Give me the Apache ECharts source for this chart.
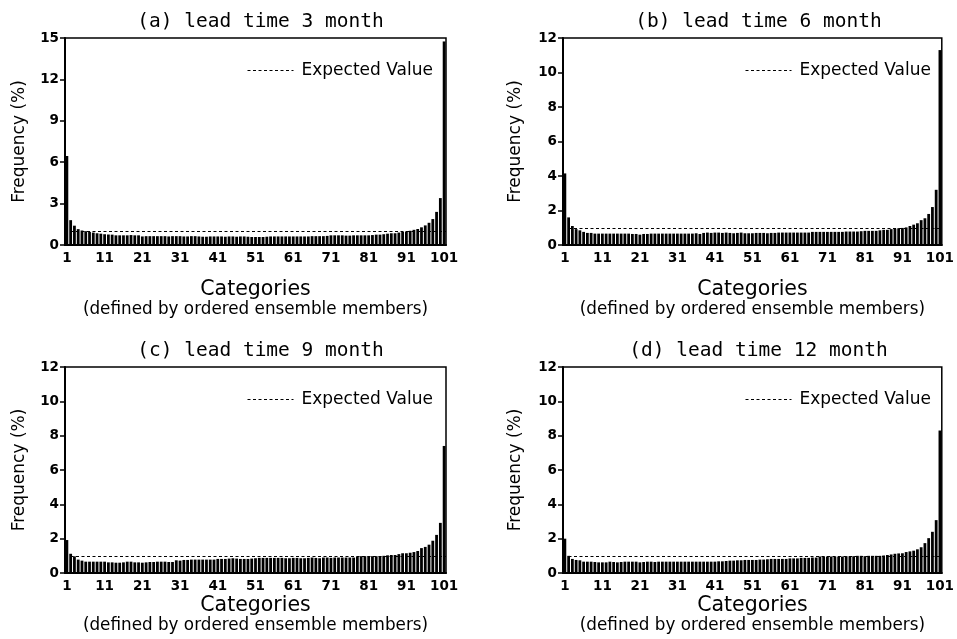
<!DOCTYPE html>
<html>
<head>
<meta charset="utf-8">
<script src="https://cdn.jsdelivr.net/npm/echarts@6/dist/echarts.min.js"></script>
<style>
html,body{margin:0;padding:0;background:#fff;}
#chart{width:957px;height:639px;}
</style>
</head>
<body>
<div id="chart"></div>
<script>
// Categories 1..101 (ordered ensemble member ranks)
const categories = Array.from({length: 101}, (_, i) => String(i + 1));

const titles = ['(a) lead time 3 month', '(b) lead time 6 month', '(c) lead time 9 month', '(d) lead time 12 month'];

const freqLead3 = [
  6.45, 1.8, 1.4, 1.15, 1.05, 1.0, 0.95, 0.9, 0.85, 0.82,
  0.78, 0.76, 0.75, 0.7, 0.7, 0.7, 0.7, 0.72, 0.7, 0.7,
  0.62, 0.64, 0.64, 0.64, 0.64, 0.64, 0.64, 0.62, 0.64, 0.64,
  0.64, 0.62, 0.62, 0.64, 0.64, 0.62, 0.6, 0.6, 0.62, 0.62,
  0.62, 0.62, 0.6, 0.62, 0.62, 0.6, 0.62, 0.62, 0.6, 0.58,
  0.58, 0.58, 0.58, 0.6, 0.62, 0.62, 0.62, 0.62, 0.62, 0.62,
  0.62, 0.62, 0.62, 0.62, 0.62, 0.64, 0.64, 0.64, 0.64, 0.66,
  0.7, 0.7, 0.7, 0.7, 0.68, 0.68, 0.7, 0.7, 0.7, 0.7,
  0.7, 0.72, 0.75, 0.75, 0.78, 0.82, 0.85, 0.85, 0.9, 0.95,
  0.98, 1.03, 1.1, 1.16, 1.28, 1.42, 1.61, 1.88, 2.4, 3.4, 14.75
];
const freqLead6 = [
  4.15, 1.6, 1.1, 0.92, 0.85, 0.76, 0.7, 0.7, 0.66, 0.66,
  0.66, 0.66, 0.66, 0.66, 0.66, 0.66, 0.66, 0.66, 0.64, 0.64,
  0.6, 0.64, 0.64, 0.66, 0.66, 0.66, 0.66, 0.66, 0.66, 0.66,
  0.66, 0.66, 0.66, 0.66, 0.66, 0.68, 0.64, 0.7, 0.72, 0.7,
  0.72, 0.72, 0.7, 0.72, 0.7, 0.68, 0.7, 0.72, 0.68, 0.68,
  0.68, 0.7, 0.7, 0.7, 0.68, 0.7, 0.7, 0.72, 0.72, 0.72,
  0.72, 0.72, 0.72, 0.72, 0.72, 0.72, 0.76, 0.76, 0.76, 0.76,
  0.76, 0.76, 0.76, 0.76, 0.76, 0.78, 0.78, 0.78, 0.78, 0.8,
  0.82, 0.82, 0.82, 0.82, 0.85, 0.88, 0.88, 0.92, 0.95, 0.97,
  0.99, 1.02, 1.1, 1.18, 1.26, 1.44, 1.55, 1.8, 2.2, 3.2, 11.3
];
const freqLead9 = [
  1.92, 1.12, 0.97, 0.78, 0.72, 0.66, 0.66, 0.66, 0.66, 0.66,
  0.66, 0.62, 0.62, 0.6, 0.6, 0.62, 0.66, 0.66, 0.62, 0.62,
  0.6, 0.62, 0.64, 0.64, 0.66, 0.66, 0.66, 0.64, 0.64, 0.74,
  0.72, 0.76, 0.76, 0.78, 0.78, 0.78, 0.78, 0.78, 0.78, 0.78,
  0.82, 0.82, 0.82, 0.84, 0.86, 0.84, 0.82, 0.82, 0.82, 0.84,
  0.86, 0.88, 0.88, 0.88, 0.88, 0.88, 0.88, 0.88, 0.86, 0.86,
  0.88, 0.88, 0.86, 0.86, 0.88, 0.9, 0.88, 0.86, 0.9, 0.9,
  0.88, 0.9, 0.9, 0.9, 0.9, 0.9, 0.9, 0.96, 0.98, 0.98,
  0.98, 0.98, 0.98, 0.98, 1.0, 1.03, 1.05, 1.05, 1.1, 1.15,
  1.15, 1.18, 1.22, 1.28, 1.45, 1.52, 1.65, 1.88, 2.22, 2.92, 7.4
];
const freqLead12 = [
  2.0, 1.0, 0.82, 0.76, 0.74, 0.66, 0.66, 0.66, 0.64, 0.62,
  0.62, 0.62, 0.66, 0.64, 0.62, 0.64, 0.66, 0.66, 0.66, 0.66,
  0.62, 0.64, 0.66, 0.66, 0.64, 0.66, 0.66, 0.66, 0.66, 0.66,
  0.66, 0.66, 0.66, 0.66, 0.66, 0.66, 0.66, 0.66, 0.66, 0.66,
  0.66, 0.68, 0.68, 0.7, 0.72, 0.72, 0.74, 0.74, 0.76, 0.76,
  0.76, 0.76, 0.78, 0.78, 0.8, 0.82, 0.82, 0.82, 0.82, 0.82,
  0.85, 0.85, 0.85, 0.88, 0.88, 0.88, 0.9, 0.9, 0.96, 0.96,
  0.96, 0.96, 0.96, 0.96, 0.96, 0.98, 0.98, 0.98, 1.0, 1.0,
  0.98, 1.0, 1.0, 1.0, 1.0, 1.02, 1.05, 1.08, 1.12, 1.14,
  1.15, 1.22, 1.26, 1.3, 1.38, 1.5, 1.74, 2.03, 2.4, 3.08, 8.3
];
const expectedValue = 1;
const yMax = [15, 12, 12, 12];
const yStep = [3, 2, 2, 2];

const seriesData = [freqLead3, freqLead6, freqLead9, freqLead12];

const FONT = 'DejaVu Sans';
const MONO = 'DejaVu Sans Mono';
const grids = [
  {left: 65, top: 38, width: 381, height: 207},
  {left: 563, top: 38, width: 381, height: 207},
  {left: 65, top: 367, width: 381, height: 206},
  {left: 563, top: 367, width: 381, height: 206}
];
const DASH = [3, 2.5];

const option = {
  backgroundColor: '#fff',
  animation: false,
  textStyle: {fontFamily: FONT, color: '#000'},
  title: titles.map((t, i) => ({
    text: t,
    left: grids[i].left + grids[i].width / 2,
    textAlign: 'center',
    top: i < 2 ? 7 : 336,
    textStyle: {fontFamily: MONO, fontSize: 19.5, fontWeight: 'normal', color: '#000'}
  })),
  legend: grids.map((g, i) => ({
    data: ['Expected Value'],
    left: g.left + 177,
    top: g.top + 19,
    itemWidth: 46,
    itemHeight: 10,
    itemGap: 8,
    selectedMode: false,
    itemStyle: {opacity: 0},
    lineStyle: {type: DASH, color: '#000', width: 1},
    textStyle: {fontFamily: FONT, fontSize: 17, color: '#000', padding: [0, 0, 0, 3]}
  })),
  grid: grids.map(g => Object.assign({show: true, borderColor: '#000', borderWidth: 1.5, containLabel: false}, g)),
  xAxis: grids.map((g, i) => ({
    type: 'category',
    gridIndex: i,
    data: categories,
    boundaryGap: true,
    axisLine: {lineStyle: {color: '#000', width: 2}},
    axisTick: {interval: 9, alignWithLabel: true, length: 5, lineStyle: {color: '#000', width: 1.5}},
    axisLabel: {interval: 9, color: '#000', fontFamily: FONT, fontSize: 13.5, fontWeight: 'bold', margin: 6},
    name: '{a|Categories}\n{b|(defined by ordered ensemble members)}',
    nameLocation: 'middle',
    nameGap: i < 2 ? 34 : 22,
    nameTextStyle: {
      color: '#000',
      rich: {
        a: {fontFamily: FONT, fontSize: 20.5, lineHeight: 21, color: '#000'},
        b: {fontFamily: FONT, fontSize: 16.8, lineHeight: 19, color: '#000'}
      }
    },
    splitLine: {show: false}
  })),
  yAxis: grids.map((g, i) => ({
    type: 'value',
    gridIndex: i,
    min: 0,
    max: yMax[i],
    interval: yStep[i],
    axisLine: {show: true, lineStyle: {color: '#000', width: 2}},
    axisTick: {show: true, length: 5, lineStyle: {color: '#000', width: 1.5}},
    axisLabel: {color: '#000', fontFamily: FONT, fontSize: 13.5, fontWeight: 'bold', margin: 6},
    splitLine: {show: false},
    name: 'Frequency (%)',
    nameLocation: 'middle',
    nameGap: i % 2 === 0 ? 37 : 39,
    nameTextStyle: {fontFamily: FONT, fontSize: 17, color: '#000'}
  })),
  series: []
};

seriesData.forEach((d, i) => {
  option.series.push({
    type: 'bar',
    name: 'freq' + i,
    xAxisIndex: i,
    yAxisIndex: i,
    data: d,
    barWidth: '74%',
    itemStyle: {color: '#000'},
    silent: true,
    markLine: {
      silent: true,
      symbol: 'none',
      label: {show: false},
      lineStyle: {type: DASH, color: '#000', width: 1},
      data: [{yAxis: expectedValue}]
    }
  });
  option.series.push({
    type: 'line',
    name: 'Expected Value',
    xAxisIndex: i,
    yAxisIndex: i,
    data: [],
    symbol: 'none',
    lineStyle: {type: DASH, color: '#000', width: 1},
    itemStyle: {color: '#000', opacity: 0}
  });
});

const chart = echarts.init(document.getElementById('chart'), null, {renderer: 'canvas'});
chart.setOption(option);
</script>
</body>
</html>
